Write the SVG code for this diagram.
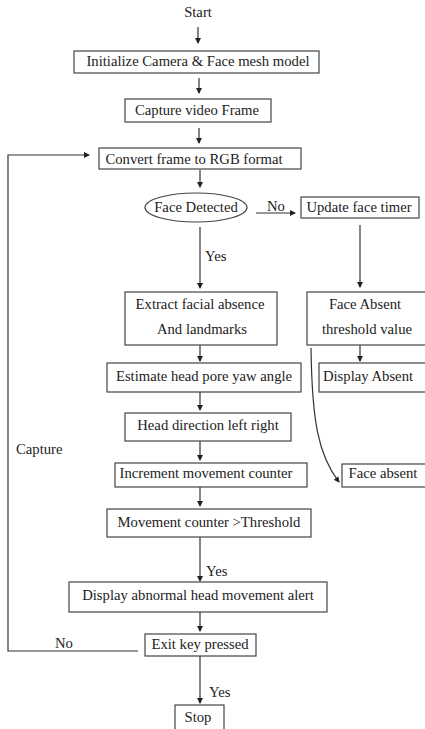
<svg xmlns="http://www.w3.org/2000/svg" width="425" height="729" viewBox="0 0 425 729">
<style>
text{font-family:"Liberation Serif","Times New Roman",serif;font-size:14.7px;fill:#222}
.c{text-anchor:middle}
.b{fill:#fff;stroke:#444;stroke-width:1.2}
.l{fill:none;stroke:#333;stroke-width:1.2}
</style>
<defs>
<marker id="a" markerWidth="6" markerHeight="6" refX="5" refY="3" orient="auto" markerUnits="userSpaceOnUse">
<path d="M0,0 L6,3 L0,6 z" fill="#222"/>
</marker>
</defs>
<rect width="425" height="729" fill="#fff"/>
<g id="connectors">
<path class="l" d="M198,27 V43" marker-end="url(#a)"/>
<path class="l" d="M199,78 V93" marker-end="url(#a)"/>
<path class="l" d="M199,128 V143" marker-end="url(#a)"/>
<path class="l" d="M200,170 V187" marker-end="url(#a)"/>
<path class="l" d="M256,213 H295" marker-end="url(#a)"/>
<path class="l" d="M200,227 V288" marker-end="url(#a)"/>
<path class="l" d="M360,225 V287" marker-end="url(#a)"/>
<path class="l" d="M200,345 V361" marker-end="url(#a)"/>
<path class="l" d="M360,345 V361" marker-end="url(#a)"/>
<path class="l" d="M311,348 C312,420 318,455 339,482" marker-end="url(#a)"/>
<path class="l" d="M200,392 V410" marker-end="url(#a)"/>
<path class="l" d="M200,441 V460" marker-end="url(#a)"/>
<path class="l" d="M200,487 V506" marker-end="url(#a)"/>
<path class="l" d="M200,537 V581" marker-end="url(#a)"/>
<path class="l" d="M200,612 V631" marker-end="url(#a)"/>
<path class="l" d="M200,656 V703" marker-end="url(#a)"/>
<path class="l" d="M138,651 H8 V155 H89" marker-end="url(#a)"/>
<text x="267" y="211">No</text>
<text x="205" y="261">Yes</text>
<text x="206" y="576">Yes</text>
<text x="55" y="648">No</text>
<text x="209" y="697">Yes</text>
<text x="16" y="454">Capture</text>
</g>
<g id="start"><text class="c" x="198" y="17">Start</text></g>
<g id="init"><rect class="b" x="74" y="51" width="245" height="22"/><text class="c" x="198" y="66">Initialize Camera &amp; Face mesh model</text></g>
<g id="capture"><rect class="b" x="125" y="99" width="146" height="23"/><text class="c" x="197" y="115">Capture video Frame</text></g>
<g id="convert"><rect class="b" x="99" y="148" width="202" height="21"/><text class="c" x="194" y="164">Convert frame to RGB format</text></g>
<g id="detected"><ellipse class="b" cx="196" cy="207.5" rx="51" ry="14.5"/><text class="c" x="196" y="212">Face Detected</text></g>
<g id="timer"><rect class="b" x="301" y="197" width="118" height="21"/><text class="c" x="359" y="212">Update face timer</text></g>
<g id="extract"><rect class="b" x="125" y="292" width="152" height="53"/><text class="c" x="200" y="309">Extract facial absence</text><text class="c" x="202" y="334">And landmarks</text></g>
<g id="threshold"><rect class="b" x="307" y="292" width="130" height="53"/><text class="c" x="365" y="309">Face Absent</text><text class="c" x="367" y="334">threshold value</text></g>
<g id="estimate"><rect class="b" x="107" y="363" width="194" height="29"/><text class="c" x="204" y="381">Estimate head pore yaw angle</text></g>
<g id="display-absent"><rect class="b" x="319" y="363" width="120" height="29"/><text class="c" x="368" y="381">Display Absent</text></g>
<g id="direction"><rect class="b" x="125" y="413" width="166" height="28"/><text class="c" x="208" y="430">Head direction left right</text></g>
<g id="increment"><rect class="b" x="115" y="463" width="192" height="24"/><text class="c" x="206" y="478">Increment movement counter</text></g>
<g id="face-absent"><rect class="b" x="342" y="464" width="100" height="23"/><text class="c" x="383" y="478">Face absent</text></g>
<g id="counter"><rect class="b" x="107" y="509" width="204" height="28"/><text class="c" x="209" y="527">Movement counter &gt;Threshold</text></g>
<g id="alert"><rect class="b" x="69" y="582" width="258" height="30"/><text class="c" x="198" y="600">Display abnormal head movement alert</text></g>
<g id="exit"><rect class="b" x="145" y="634" width="111" height="22"/><text class="c" x="200" y="649">Exit key pressed</text></g>
<g id="stop"><rect class="b" x="175" y="705" width="49" height="30"/><text class="c" x="198" y="722">Stop</text></g>
</svg>
